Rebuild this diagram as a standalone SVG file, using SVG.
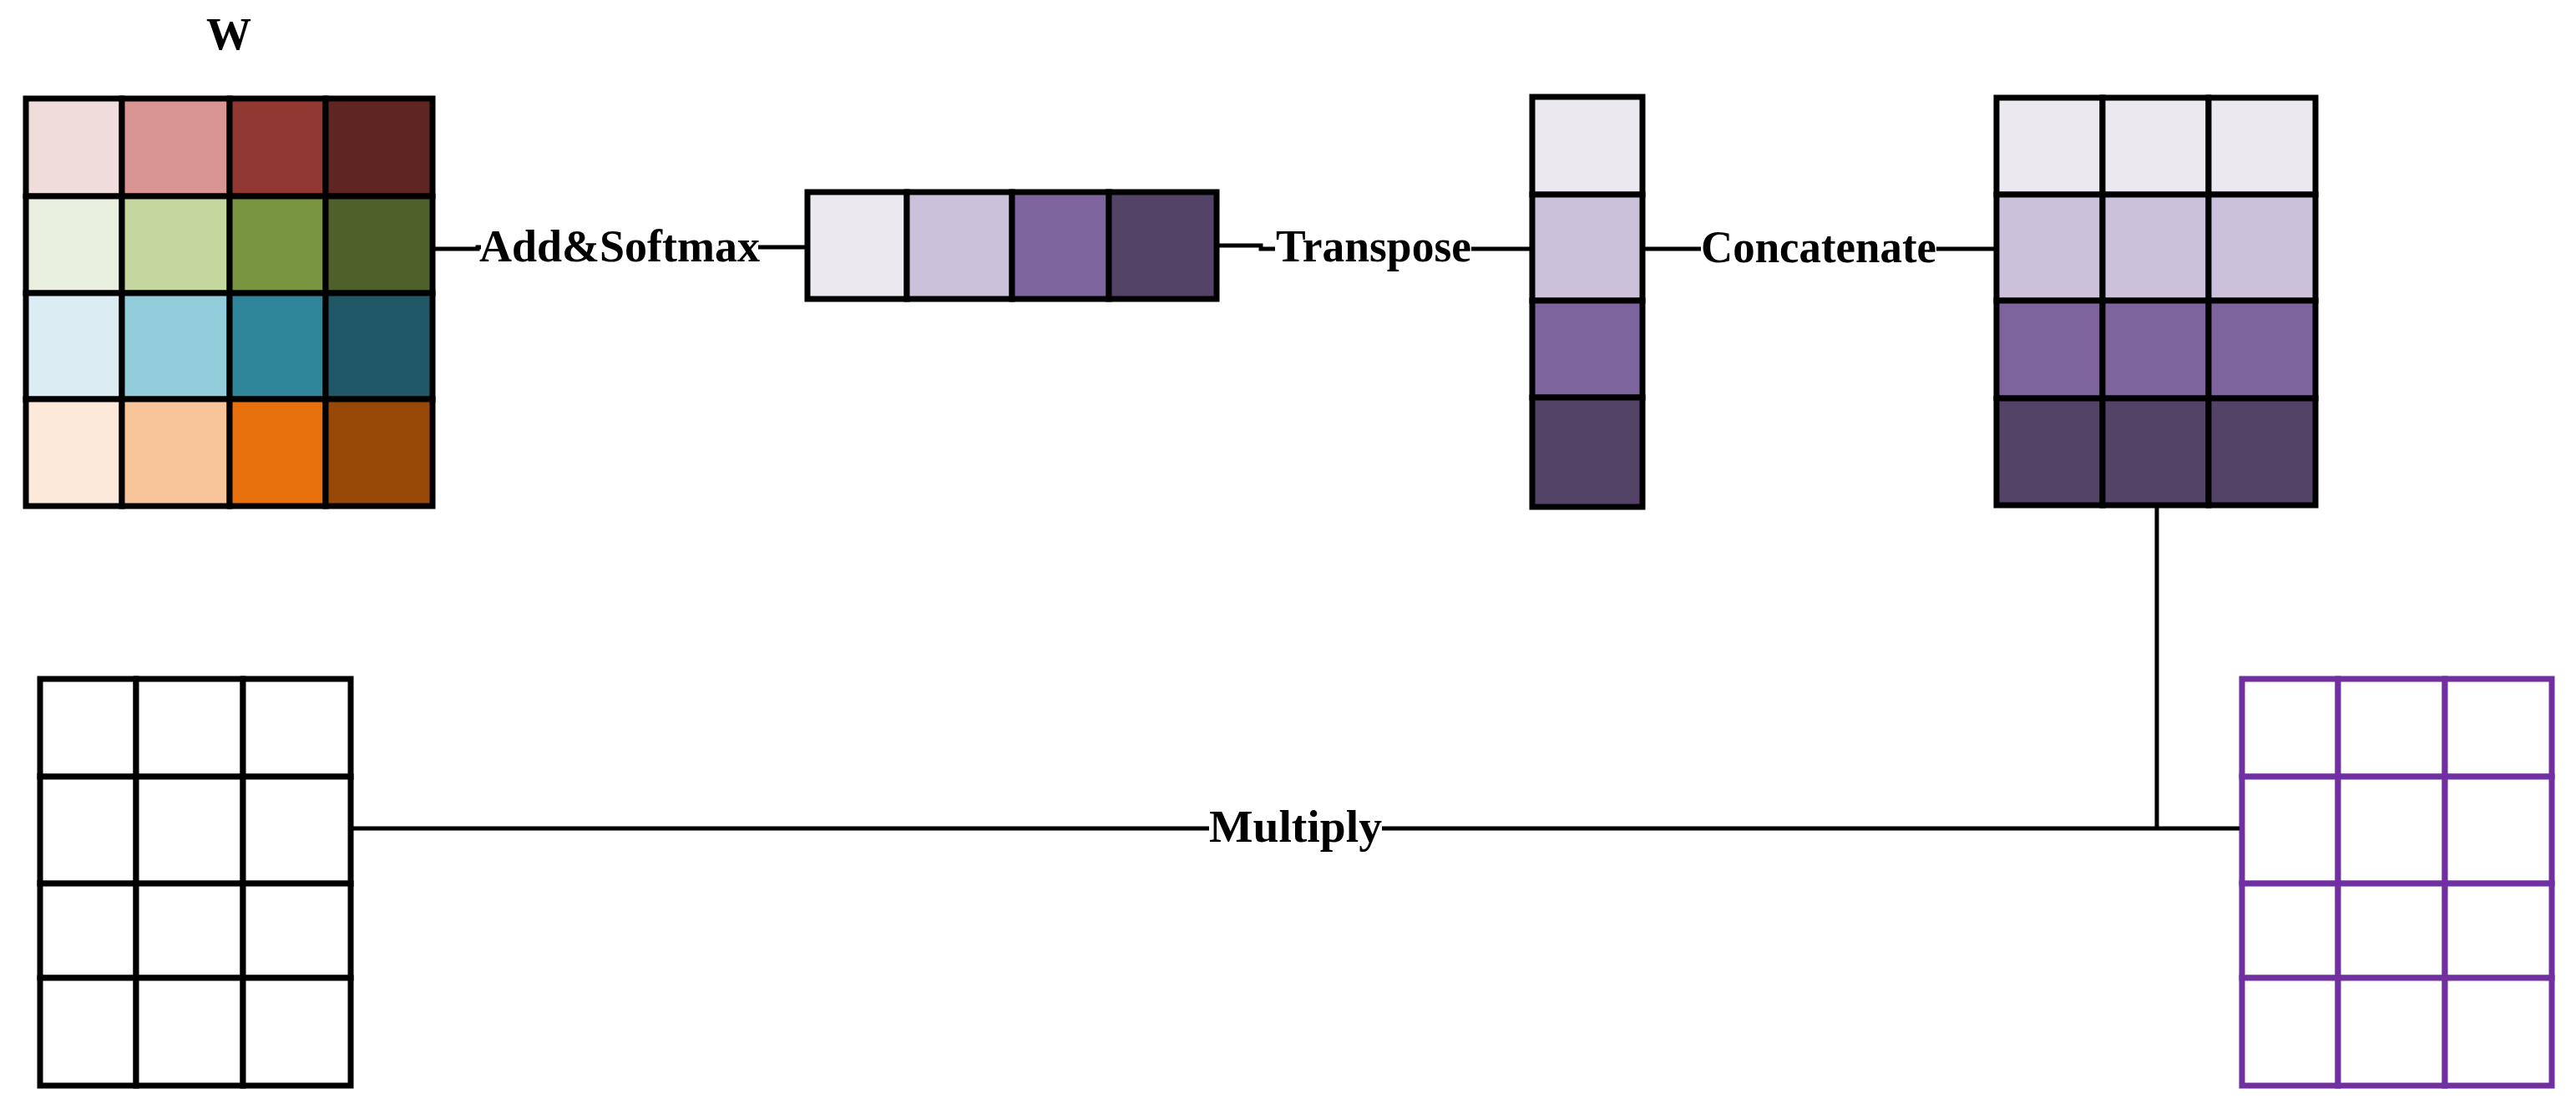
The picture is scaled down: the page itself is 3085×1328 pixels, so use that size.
<svg xmlns="http://www.w3.org/2000/svg" width="3085" height="1328" viewBox="0 0 3085 1328">
<style>
.c{stroke:#000;stroke-width:7;stroke-linejoin:miter}
.p{fill:#fff;stroke:#7030A0;stroke-width:7}
.e{fill:#fff;stroke:#000;stroke-width:7}
.l{fill:none;stroke:#000;stroke-width:5}
.t{font-family:"Liberation Serif","Times New Roman",serif;font-weight:bold;font-size:54px;fill:#000}
</style>
<rect width="3085" height="1328" fill="#fff"/>
<g id="W">
<text class="t" x="274" y="59" text-anchor="middle" font-size="52">W</text>
<rect class="c" x="31" y="118" width="115" height="117" fill="#F0DCDA"/>
<rect class="c" x="146" y="118" width="129" height="117" fill="#D99592"/>
<rect class="c" x="275" y="118" width="115" height="117" fill="#913833"/>
<rect class="c" x="390" y="118" width="128" height="117" fill="#5E2522"/>
<rect class="c" x="31" y="235" width="115" height="116" fill="#EAF0DF"/>
<rect class="c" x="146" y="235" width="129" height="116" fill="#C5D69F"/>
<rect class="c" x="275" y="235" width="115" height="116" fill="#7A953F"/>
<rect class="c" x="390" y="235" width="128" height="116" fill="#50602A"/>
<rect class="c" x="31" y="351" width="115" height="127" fill="#DBEDF3"/>
<rect class="c" x="146" y="351" width="129" height="127" fill="#93CDDC"/>
<rect class="c" x="275" y="351" width="115" height="127" fill="#2F8599"/>
<rect class="c" x="390" y="351" width="128" height="127" fill="#205867"/>
<rect class="c" x="31" y="478" width="115" height="128" fill="#FCE9DA"/>
<rect class="c" x="146" y="478" width="129" height="128" fill="#F8C59B"/>
<rect class="c" x="275" y="478" width="115" height="128" fill="#E8710D"/>
<rect class="c" x="390" y="478" width="128" height="128" fill="#984807"/>
</g>
<g id="rowvec">
<rect class="c" x="967" y="230" width="119" height="128" fill="#EBE8F0"/>
<rect class="c" x="1086" y="230" width="126" height="128" fill="#CBC1DA"/>
<rect class="c" x="1212" y="230" width="116" height="128" fill="#7D649C"/>
<rect class="c" x="1328" y="230" width="129" height="128" fill="#524367"/>
</g>
<g id="colvec">
<rect class="c" x="1835" y="116" width="132" height="117" fill="#EBE8F0"/>
<rect class="c" x="1835" y="233" width="132" height="127" fill="#CBC1DA"/>
<rect class="c" x="1835" y="360" width="132" height="116" fill="#7D649C"/>
<rect class="c" x="1835" y="476" width="132" height="131" fill="#524367"/>
</g>
<g id="concat">
<rect class="c" x="2391" y="117" width="127" height="116" fill="#EBE8F0"/>
<rect class="c" x="2518" y="117" width="127" height="116" fill="#EBE8F0"/>
<rect class="c" x="2645" y="117" width="128" height="116" fill="#EBE8F0"/>
<rect class="c" x="2391" y="233" width="127" height="127" fill="#CBC1DA"/>
<rect class="c" x="2518" y="233" width="127" height="127" fill="#CBC1DA"/>
<rect class="c" x="2645" y="233" width="128" height="127" fill="#CBC1DA"/>
<rect class="c" x="2391" y="360" width="127" height="117" fill="#7D649C"/>
<rect class="c" x="2518" y="360" width="127" height="117" fill="#7D649C"/>
<rect class="c" x="2645" y="360" width="128" height="117" fill="#7D649C"/>
<rect class="c" x="2391" y="477" width="127" height="128" fill="#524367"/>
<rect class="c" x="2518" y="477" width="127" height="128" fill="#524367"/>
<rect class="c" x="2645" y="477" width="128" height="128" fill="#524367"/>
</g>
<g id="result">
<rect class="e" x="48" y="813" width="115" height="117"/>
<rect class="e" x="163" y="813" width="128" height="117"/>
<rect class="e" x="291" y="813" width="129" height="117"/>
<rect class="e" x="48" y="930" width="115" height="128"/>
<rect class="e" x="163" y="930" width="128" height="128"/>
<rect class="e" x="291" y="930" width="129" height="128"/>
<rect class="e" x="48" y="1058" width="115" height="113"/>
<rect class="e" x="163" y="1058" width="128" height="113"/>
<rect class="e" x="291" y="1058" width="129" height="113"/>
<rect class="e" x="48" y="1171" width="115" height="129"/>
<rect class="e" x="163" y="1171" width="128" height="129"/>
<rect class="e" x="291" y="1171" width="129" height="129"/>
</g>
<g id="weights">
<rect class="p" x="2685" y="813" width="115" height="117"/>
<rect class="p" x="2800" y="813" width="128" height="117"/>
<rect class="p" x="2928" y="813" width="128" height="117"/>
<rect class="p" x="2685" y="930" width="115" height="128"/>
<rect class="p" x="2800" y="930" width="128" height="128"/>
<rect class="p" x="2928" y="930" width="128" height="128"/>
<rect class="p" x="2685" y="1058" width="115" height="113"/>
<rect class="p" x="2800" y="1058" width="128" height="113"/>
<rect class="p" x="2928" y="1058" width="128" height="113"/>
<rect class="p" x="2685" y="1171" width="115" height="129"/>
<rect class="p" x="2800" y="1171" width="128" height="129"/>
<rect class="p" x="2928" y="1171" width="128" height="129"/>
</g>
<g id="connectors">
<polyline class="l" points="521,298 572,298 572,296 576,296"/>
<line class="l" x1="908" y1="296" x2="964" y2="296"/>
<polyline class="l" points="1460,294 1510,294 1510,298 1527,298"/>
<line class="l" x1="1762" y1="298" x2="1832" y2="298"/>
<line class="l" x1="1970" y1="298" x2="2037" y2="298"/>
<line class="l" x1="2319" y1="298" x2="2388" y2="298"/>
<line class="l" x1="2583" y1="608" x2="2583" y2="994"/>
<line class="l" x1="423" y1="992" x2="1448" y2="992"/>
<line class="l" x1="1655" y1="992" x2="2682" y2="992"/>
<text class="t" x="574" y="313" textLength="336" lengthAdjust="spacingAndGlyphs">Add&amp;Softmax</text>
<text class="t" x="1528" y="313" textLength="234" lengthAdjust="spacingAndGlyphs">Transpose</text>
<text class="t" x="2037" y="314" textLength="282" lengthAdjust="spacingAndGlyphs">Concatenate</text>
<text class="t" x="1448" y="1008" textLength="207" lengthAdjust="spacingAndGlyphs">Multiply</text>
</g>
</svg>
